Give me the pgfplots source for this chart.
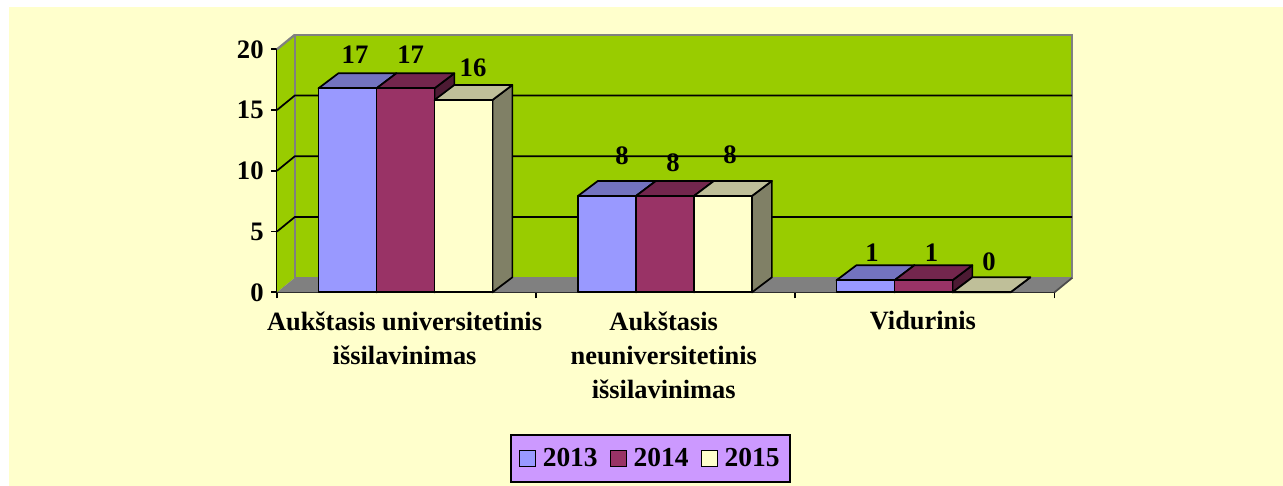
\documentclass[border=0pt]{standalone}
\usepackage{pgfplots}
\pgfplotsset{compat=1.18}
\usepackage{fontspec}
\setmainfont{Liberation Serif}
\definecolor{bgy}{HTML}{FFFFCC}
\definecolor{wall}{HTML}{99CC00}
\definecolor{floorc}{HTML}{808080}
\definecolor{aF}{HTML}{9999FF}\definecolor{aT}{HTML}{7373BF}\definecolor{aS}{HTML}{4D4D80}
\definecolor{bF}{HTML}{993366}\definecolor{bT}{HTML}{73264D}\definecolor{bS}{HTML}{4D1A33}
\definecolor{cF}{HTML}{FFFFCC}\definecolor{cT}{HTML}{BFBF99}\definecolor{cS}{HTML}{808066}
\definecolor{legb}{HTML}{CC99FF}
\newcommand{\dxx}{0.0767}
\newcommand{\dyy}{1.235}
\newcommand{\bw}{0.2238}
% left x, value, front, top, side
\newcommand{\drawbar}[5]{%
  \pgfmathsetmacro{\xa}{#1}%
  \pgfmathsetmacro{\xb}{#1+\bw}%
  \pgfmathsetmacro{\xc}{#1+\dxx}%
  \pgfmathsetmacro{\xd}{#1+\bw+\dxx}%
  \pgfmathsetmacro{\yt}{#2+\dyy}%
  \addplot[forget plot,fill=#5,draw=black,line width=1.3pt,line join=round] coordinates {(\xb,0) (\xd,\dyy) (\xd,\yt) (\xb,#2)} -- cycle;
  \addplot[forget plot,fill=#4,draw=black,line width=1.3pt,line join=round] coordinates {(\xa,#2) (\xc,\yt) (\xd,\yt) (\xb,#2)} -- cycle;
  \addplot[forget plot,fill=#3,draw=black,line width=1.3pt,line join=round] coordinates {(\xa,0) (\xa,#2) (\xb,#2) (\xb,0)} -- cycle;
}
\newcommand{\gridl}[1]{%
  \pgfmathsetmacro{\yt}{#1+1.19}%
  \addplot[forget plot,black,line width=1.3pt] coordinates {(-0.5,#1) (-0.4317,\yt) (2.5683,\yt)};
}
\pgfplotstableread{
x y label
-0.199 19.57 17
0.0159 19.57 17
0.2563 18.44 16
0.8312 11.22 8
1.028 10.64 8
1.248 11.30 8
1.7957 3.26 1
2.026 3.26 1
2.247 2.49 0
}\labeltab
\begin{document}
\begin{tikzpicture}
\useasboundingbox (0,0) rectangle (962.25pt,-364.5pt);
\fill[white] (0,0) rectangle (962.25pt,-364.5pt);
\fill[bgy] (6.75pt,-5.25pt) rectangle (962.25pt,-364.5pt);
\begin{axis}[
  at={(207.75pt,-219.225pt)}, anchor=south west,
  scale only axis, width=583.125pt, height=182.25pt,
  xmin=-0.5, xmax=2.5, ymin=0, ymax=20,
  clip=false,
  axis x line=bottom, axis y line=left,
  axis line style={-,black,line width=1.3pt},
  xtick={0,1,2},
  xticklabels={{Aukštasis universitetinis\\išsilavinimas},{Aukštasis\\neuniversitetinis\\išsilavinimas},{Vidurinis}},
  minor xtick={-0.5,0.5,1.5,2.5},
  major x tick style={draw=none},
  minor tick length=4.5pt,
  ytick={0,5,10,15,20},
  major tick length=4.5pt,
  tick style={black,line width=1.3pt},
  tick align=outside,
  /pgf/number format/assume math mode=true,
  yticklabel style={font=\bfseries\fontsize{20pt}{23pt}\selectfont, xshift=-2pt},
  xticklabel style={font=\bfseries\fontsize{19.8pt}{25.5pt}\selectfont, align=center, anchor=north, yshift=-6.3pt, xshift=-1.5pt},
  legend style={at={(0.4804,-0.684)}, anchor=center, fill=legb, draw=black, line width=1.5pt,
    font=\bfseries\fontsize{20.6pt}{23pt}\selectfont, legend columns=3,
    /tikz/every even column/.append style={column sep=7pt},
    /tikz/every odd column/.append style={column sep=3pt},
    inner xsep=6pt, inner ysep=8.2pt, legend cell align=left},
  legend image code/.code={\draw[#1,line width=1pt] (0pt,-6pt) rectangle (12pt,6pt);},
  nodes near coords style={font=\bfseries\fontsize{20pt}{23pt}\selectfont, anchor=center, inner sep=0pt},
]
% back wall, left wall, floor
\addplot[forget plot,fill=wall,draw=floorc,line width=1.7pt] coordinates {(-0.4317,1.19) (-0.4317,21.19) (2.5683,21.19) (2.5683,1.19)} -- cycle;
\addplot[forget plot,fill=wall,draw=none] coordinates {(-0.5,0) (-0.5,20) (-0.4317,21.19) (-0.4317,1.19)} -- cycle;
\addplot[forget plot,floorc,line width=1.7pt] coordinates {(-0.5,20) (-0.4317,21.19)};
\addplot[forget plot,floorc,line width=1.7pt] coordinates {(-0.4317,1.19) (-0.4317,21.19)};
\addplot[forget plot,fill=floorc,draw=none] coordinates {(-0.5,0) (-0.4317,1.19) (2.5683,1.19) (2.5,0)} -- cycle;
\addplot[forget plot,black!70,line width=1.3pt] coordinates {(2.5,0) (2.5683,1.19)};
\gridl{5}\gridl{10}\gridl{15}
% bars
\drawbar{-0.3399}{16.79}{aF}{aT}{aS}
\drawbar{-0.1161}{16.79}{bF}{bT}{bS}
\drawbar{0.1077}{15.83}{cF}{cT}{cS}
\drawbar{0.6614}{7.93}{aF}{aT}{aS}
\drawbar{0.8852}{7.93}{bF}{bT}{bS}
\drawbar{1.1090}{7.93}{cF}{cT}{cS}
\drawbar{1.6588}{0.99}{aF}{aT}{aS}
\drawbar{1.8826}{0.99}{bF}{bT}{bS}
\drawbar{2.1064}{0}{cF}{cT}{cS}
\addplot[forget plot,draw=none,mark=none,nodes near coords,point meta=explicit symbolic] table[x=x,y=y,meta=label] {\labeltab};
\addlegendimage{fill=aF}\addlegendentry{2013}
\addlegendimage{fill=bF}\addlegendentry{2014}
\addlegendimage{fill=cF}\addlegendentry{2015}
\end{axis}
\end{tikzpicture}
\end{document}
